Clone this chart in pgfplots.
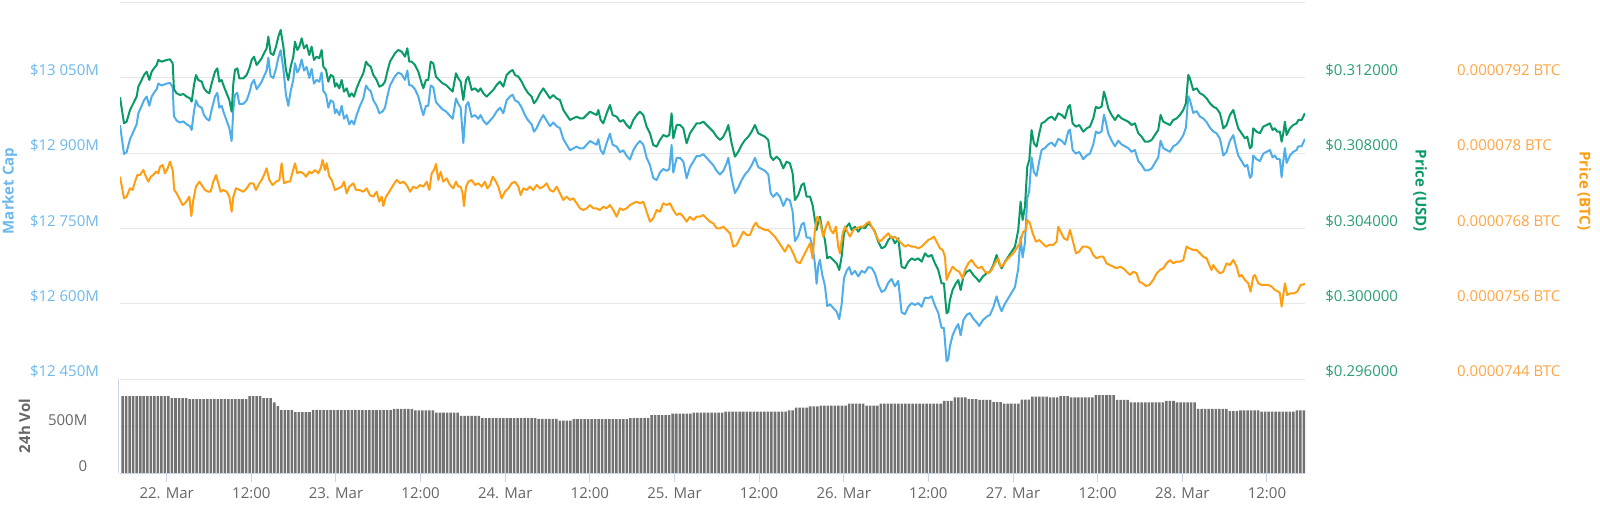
\documentclass[border=0pt]{standalone}
\usepackage{pgfplots}
\pgfplotsset{compat=1.18}
\usepackage{pgfplotstable}
\usepackage{fontspec}
\setmainfont{Open Sans}
\definecolor{mcblue}{HTML}{4FAEE9}
\definecolor{mctext}{HTML}{6DB8EC}
\definecolor{usdgreen}{HTML}{0A9A69}
\definecolor{usdtext}{HTML}{2A9E77}
\definecolor{btcorange}{HTML}{FF9E12}
\definecolor{btctext}{HTML}{FFA544}
\definecolor{gridgray}{HTML}{E6E6E6}
\definecolor{tickblue}{HTML}{CCD6EB}
\definecolor{labgray}{HTML}{666666}
\definecolor{volgray}{HTML}{727272}

% t = hours since 22 Mar 00:00 ; usd = price in USD ; mc = market cap in millions USD
\pgfplotstableread{
t usd mc
-6.62 0.310957 12955.7
-6.05 0.309577 12898.2
-5.68 0.309666 12901.9
-5.20 0.310285 12927.7
-4.73 0.310638 12942.5
-4.26 0.310992 12957.2
-4.02 0.311522 12979.3
-3.55 0.311876 12994.1
-3.22 0.312141 13005.1
-2.84 0.312318 13012.5
-2.46 0.311876 12994.1
-2.13 0.312318 13012.5
-1.80 0.312495 13019.9
-1.42 0.312672 13027.2
-1.19 0.312937 13038.3
-0.71 0.312849 13034.6
0.00 0.312937 13038.3
0.47 0.312972 13039.8
0.85 0.312760 13030.9
1.03 0.311381 12973.4
1.41 0.311169 12964.6
1.89 0.311080 12960.9
2.36 0.311133 12963.1
2.83 0.310992 12957.2
3.30 0.310903 12953.5
3.54 0.310727 12946.1
3.87 0.311611 12983.0
4.15 0.312141 13005.1
4.48 0.311876 12994.1
4.96 0.311788 12990.4
5.29 0.311434 12975.6
5.67 0.311257 12968.3
6.04 0.311169 12964.6
6.38 0.311699 12986.7
6.85 0.312318 13012.5
7.18 0.312495 13019.9
7.46 0.311788 12990.4
7.79 0.311876 12994.1
8.12 0.311522 12979.3
8.50 0.311169 12964.6
8.88 0.310815 12949.8
9.21 0.310196 12924.0
9.45 0.311699 12986.7
9.68 0.312407 13016.2
10.01 0.312495 13019.9
10.30 0.311964 12997.8
10.86 0.311964 12997.8
11.34 0.312141 13005.1
11.72 0.312495 13019.9
12.05 0.312937 13038.3
12.38 0.313114 13045.7
12.76 0.312672 13027.2
13.13 0.312849 13034.6
13.46 0.313025 13042.0
13.80 0.313291 13053.0
14.17 0.313556 13064.1
14.41 0.314175 13089.9
14.74 0.313291 13053.0
15.12 0.313202 13049.4
15.50 0.313644 13067.8
15.83 0.314175 13089.9
16.16 0.314529 13104.7
16.54 0.313644 13067.8
16.91 0.312407 13016.2
17.24 0.311876 12994.1
17.58 0.312583 13023.6
17.95 0.313114 13045.7
18.19 0.313910 13078.8
18.52 0.313468 13060.4
18.80 0.313644 13067.8
19.14 0.314086 13086.2
19.47 0.313556 13064.1
19.84 0.313733 13071.5
20.22 0.313202 13049.4
20.55 0.313644 13067.8
20.88 0.312937 13038.3
21.26 0.313114 13045.7
21.64 0.313025 13042.0
21.97 0.313468 13060.4
22.21 0.312583 13023.6
22.59 0.312407 13016.2
22.92 0.311788 12990.4
23.25 0.312141 13005.1
23.63 0.312053 13001.4
23.86 0.311522 12979.3
24.10 0.311699 12986.7
24.48 0.311434 12975.6
24.81 0.311876 12994.1
25.14 0.311257 12968.3
25.52 0.311434 12975.6
25.89 0.310992 12957.2
26.22 0.311169 12964.6
26.56 0.310992 12957.2
26.93 0.311434 12975.6
27.41 0.311876 12994.1
27.88 0.312230 13008.8
28.26 0.312849 13034.6
28.59 0.312672 13027.2
28.92 0.312583 13023.6
29.30 0.312141 13005.1
29.77 0.311876 12994.1
30.15 0.311522 12979.3
30.62 0.311611 12983.0
30.95 0.311788 12990.4
31.28 0.312318 13012.5
31.66 0.312849 13034.6
32.37 0.313291 13053.0
32.84 0.313468 13060.4
33.31 0.313379 13056.7
33.79 0.313114 13045.7
34.12 0.313556 13064.1
34.40 0.312849 13034.6
34.73 0.312849 13034.6
35.20 0.312672 13027.2
35.68 0.312318 13012.5
36.15 0.311699 12986.7
36.39 0.311434 12975.6
36.76 0.311876 12994.1
37.09 0.311876 12994.1
37.43 0.312849 13034.6
37.80 0.312760 13030.9
38.18 0.312053 13001.4
38.65 0.311876 12994.1
39.13 0.311699 12986.7
39.60 0.311611 12983.0
40.07 0.311434 12975.6
40.54 0.311257 12968.3
41.02 0.312230 13008.8
41.35 0.311964 12997.8
41.68 0.311788 12990.4
42.06 0.310815 12920.0
42.44 0.311876 12994.1
42.77 0.312053 13001.4
43.24 0.311346 12972.0
43.71 0.311434 12975.6
44.18 0.311257 12968.3
44.51 0.311434 12975.6
44.89 0.311169 12964.6
45.37 0.310992 12957.2
45.84 0.311169 12964.6
46.31 0.311346 12972.0
46.78 0.311611 12983.0
47.26 0.311788 12990.4
47.73 0.311522 12979.3
48.20 0.312141 13005.1
48.67 0.312318 13012.5
49.05 0.312407 13016.2
49.38 0.312141 13005.1
49.86 0.312053 13001.4
50.33 0.311788 12990.4
50.80 0.311434 12975.6
51.27 0.311169 12964.6
51.75 0.310992 12957.2
52.08 0.310638 12942.5
52.45 0.310815 12949.8
52.93 0.311169 12964.6
53.40 0.311434 12975.6
53.87 0.311169 12964.6
54.34 0.310903 12953.5
54.82 0.311080 12960.9
55.29 0.310903 12953.5
55.76 0.310815 12949.8
56.24 0.310285 12927.7
56.71 0.310019 12916.7
57.18 0.309754 12905.6
57.65 0.309842 12909.3
58.13 0.309931 12913.0
58.60 0.309842 12909.3
59.07 0.309842 12909.3
59.54 0.310019 12916.7
60.02 0.310196 12924.0
60.49 0.310108 12920.3
60.96 0.310019 12916.7
61.20 0.310285 12927.7
61.53 0.309754 12905.6
61.91 0.309577 12898.2
62.38 0.310108 12920.3
62.85 0.310550 12938.8
63.23 0.310019 12916.7
63.80 0.309931 12913.0
64.27 0.309666 12901.9
64.74 0.309754 12905.6
65.21 0.309489 12894.5
65.69 0.309312 12887.2
66.16 0.309754 12905.6
66.63 0.310019 12916.7
67.10 0.310196 12924.0
67.58 0.310019 12916.7
68.05 0.309400 12890.9
68.52 0.309047 12876.1
68.99 0.308428 12850.3
69.47 0.308339 12846.6
69.94 0.308693 12861.4
70.41 0.308958 12868.4
70.89 0.308870 12864.7
71.26 0.308958 12868.4
71.59 0.310108 12916.3
71.83 0.308781 12861.1
72.30 0.309489 12890.5
72.78 0.309489 12890.5
73.25 0.309312 12883.2
73.72 0.308516 12850.0
74.19 0.309047 12872.1
74.67 0.309312 12883.2
75.14 0.309577 12894.2
75.61 0.309577 12894.2
76.08 0.309666 12897.9
76.56 0.309489 12890.5
77.03 0.309312 12883.2
77.50 0.309135 12875.8
77.97 0.308870 12864.7
78.45 0.308693 12857.4
78.92 0.308870 12864.7
79.39 0.309224 12879.5
79.63 0.309489 12890.5
80.10 0.308516 12850.0
80.57 0.307809 12820.5
81.05 0.308074 12831.6
81.52 0.308428 12846.3
81.99 0.308693 12857.4
82.46 0.308870 12864.7
82.94 0.309135 12875.8
83.41 0.309489 12890.5
83.88 0.309047 12872.1
84.35 0.308958 12868.4
84.83 0.308870 12864.7
85.30 0.308693 12857.4
85.63 0.307809 12820.5
86.01 0.307632 12813.1
86.48 0.307809 12820.5
86.95 0.307632 12813.1
87.43 0.307190 12794.7
87.90 0.307544 12809.4
88.37 0.307455 12805.8
88.75 0.306925 12783.6
89.08 0.305510 12724.7
89.55 0.305775 12735.7
90.02 0.306306 12757.8
90.35 0.306394 12761.5
90.73 0.305687 12732.0
91.21 0.305687 12732.0
91.58 0.305245 12713.6
91.91 0.304449 12680.4
92.15 0.303919 12640.0
92.39 0.304361 12676.7
92.62 0.304626 12687.8
92.95 0.303919 12658.3
93.33 0.303388 12636.2
93.66 0.302415 12595.6
94.04 0.302504 12599.3
94.51 0.302327 12592.0
94.99 0.302150 12584.6
95.36 0.301797 12569.8
95.70 0.302504 12599.3
96.03 0.303742 12650.9
96.40 0.304095 12665.7
96.78 0.304272 12673.1
97.11 0.303919 12658.3
97.59 0.304095 12665.7
98.06 0.303830 12654.6
98.53 0.304095 12665.7
99.00 0.304007 12662.0
99.48 0.304272 12673.1
99.95 0.304095 12671.7
100.42 0.303830 12660.6
100.89 0.303300 12638.5
101.37 0.302946 12623.8
101.84 0.303034 12627.5
102.31 0.303388 12642.2
102.78 0.303565 12649.6
103.26 0.303211 12634.8
103.73 0.303476 12645.9
104.20 0.301973 12583.2
104.67 0.301885 12579.5
105.15 0.302239 12594.3
105.62 0.302415 12601.7
106.09 0.302327 12598.0
106.56 0.302415 12601.7
107.04 0.302239 12594.3
107.51 0.302681 12612.7
107.98 0.302504 12611.3
108.46 0.302592 12615.0
108.93 0.302150 12596.6
109.40 0.301797 12581.8
109.87 0.301089 12552.4
110.20 0.301089 12552.4
110.58 0.299498 12486.0
110.82 0.299586 12489.7
111.05 0.300205 12515.5
111.43 0.300736 12537.6
111.90 0.301089 12552.4
112.24 0.301266 12559.7
112.57 0.300736 12537.6
112.95 0.301443 12567.1
113.42 0.301708 12578.2
113.89 0.301797 12581.8
114.36 0.301531 12570.8
114.84 0.301354 12563.4
115.21 0.301178 12556.0
115.69 0.301443 12567.1
116.25 0.301620 12574.5
116.73 0.301708 12578.2
117.20 0.302062 12592.9
117.67 0.302592 12615.0
118.05 0.302150 12596.6
118.38 0.301885 12585.5
118.85 0.302239 12600.3
119.33 0.302504 12611.3
119.80 0.302769 12622.4
120.27 0.303034 12633.5
120.51 0.303476 12651.9
120.74 0.303919 12670.3
121.07 0.305422 12733.0
121.36 0.304449 12692.4
121.69 0.305156 12721.9
122.02 0.307278 12810.4
122.30 0.307632 12825.1
122.63 0.309224 12891.5
122.96 0.308516 12862.0
123.34 0.308339 12854.6
123.72 0.309047 12884.1
124.05 0.309577 12906.2
124.52 0.309666 12909.9
124.99 0.309842 12917.3
125.47 0.309931 12921.0
125.94 0.309754 12913.6
126.41 0.310108 12928.3
126.89 0.310019 12924.7
127.36 0.309842 12917.3
127.83 0.310461 12943.1
128.07 0.310550 12946.8
128.45 0.309577 12906.2
128.92 0.309400 12898.9
129.39 0.309489 12902.5
129.96 0.309135 12887.8
130.43 0.309312 12895.2
130.90 0.309400 12898.9
131.38 0.309842 12917.3
131.75 0.310461 12943.1
132.09 0.310373 12939.4
132.56 0.310461 12943.1
132.89 0.311257 12976.3
133.17 0.310903 12961.5
133.50 0.310373 12939.4
133.98 0.310019 12924.7
134.45 0.309754 12913.6
134.92 0.310019 12924.7
135.39 0.309842 12917.3
135.87 0.309754 12913.6
136.34 0.309666 12909.9
136.81 0.309489 12902.5
137.28 0.309577 12906.2
137.76 0.309047 12884.1
138.23 0.308870 12876.7
138.70 0.308605 12865.7
139.17 0.308605 12865.7
139.65 0.308693 12869.4
140.12 0.308958 12880.4
140.59 0.309224 12891.5
140.92 0.310019 12924.7
141.30 0.309666 12909.9
141.77 0.309577 12906.2
142.25 0.309489 12902.5
142.72 0.309754 12913.6
143.19 0.309842 12917.3
143.66 0.310019 12924.7
144.14 0.310285 12935.7
144.51 0.310638 12950.5
144.85 0.312141 13013.1
145.08 0.311964 13005.8
145.55 0.311346 12980.0
146.03 0.311434 12983.6
146.50 0.311169 12972.6
146.97 0.311080 12968.9
147.45 0.310903 12961.5
147.92 0.310638 12950.5
148.39 0.310461 12943.1
148.86 0.310373 12939.4
149.34 0.310108 12928.3
149.57 0.309754 12913.6
149.81 0.309312 12895.2
150.28 0.309489 12902.5
150.75 0.310019 12924.7
151.23 0.310285 12935.7
151.60 0.309754 12913.6
151.93 0.309312 12895.2
152.41 0.309047 12884.1
152.88 0.308781 12873.1
153.21 0.308870 12876.7
153.59 0.308251 12850.9
153.83 0.308339 12854.6
154.06 0.309312 12895.2
154.53 0.309135 12887.8
155.01 0.309047 12884.1
155.48 0.309400 12898.9
155.95 0.309489 12902.5
156.42 0.309577 12906.2
156.80 0.309224 12891.5
157.13 0.309312 12895.2
157.46 0.309135 12887.8
157.84 0.309135 12887.8
158.08 0.308605 12852.0
158.32 0.309047 12884.1
158.55 0.309666 12909.9
158.79 0.308958 12880.4
159.26 0.309312 12895.2
159.73 0.309489 12902.5
160.21 0.309577 12906.2
160.44 0.309754 12913.6
160.91 0.309754 12913.6
161.39 0.310108 12928.3
}\usdtab

% price in BTC
\pgfplotstableread{
t btc
-6.62 0.000077625
-6.05 0.000077280
-5.68 0.000077307
-5.20 0.000077439
-4.83 0.000077413
-4.49 0.000077545
-4.16 0.000077651
-3.79 0.000077651
-3.31 0.000077731
-2.94 0.000077625
-2.60 0.000077545
-2.27 0.000077625
-1.90 0.000077651
-1.52 0.000077705
-1.19 0.000077678
-0.95 0.000077784
-0.57 0.000077811
-0.24 0.000077678
0.14 0.000077758
0.47 0.000077864
0.85 0.000077731
1.08 0.000077413
1.41 0.000077360
1.89 0.000077254
2.26 0.000077174
2.59 0.000077201
2.92 0.000077254
3.21 0.000077307
3.49 0.000076999
3.78 0.000077254
4.15 0.000077466
4.63 0.000077545
4.96 0.000077492
5.43 0.000077413
5.90 0.000077386
6.23 0.000077386
6.61 0.000077545
6.99 0.000077651
7.32 0.000077519
7.65 0.000077386
8.03 0.000077413
8.50 0.000077386
8.88 0.000077307
9.21 0.000077068
9.45 0.000077307
9.82 0.000077439
10.39 0.000077413
10.86 0.000077386
11.34 0.000077439
11.81 0.000077519
12.28 0.000077519
12.66 0.000077413
13.13 0.000077519
13.46 0.000077572
13.80 0.000077651
14.17 0.000077758
14.55 0.000077572
15.02 0.000077492
15.50 0.000077545
15.97 0.000077572
16.30 0.000077837
16.63 0.000077519
17.10 0.000077545
17.48 0.000077545
17.86 0.000077705
18.19 0.000077837
18.52 0.000077678
18.90 0.000077705
19.37 0.000077678
19.75 0.000077625
20.22 0.000077705
20.55 0.000077678
21.03 0.000077731
21.50 0.000077678
21.83 0.000077758
22.11 0.000077890
22.44 0.000077731
22.68 0.000077837
23.06 0.000077625
23.39 0.000077572
23.86 0.000077413
24.33 0.000077439
24.81 0.000077466
25.14 0.000077545
25.52 0.000077360
25.89 0.000077466
26.46 0.000077519
26.84 0.000077413
27.31 0.000077413
27.88 0.000077386
28.35 0.000077439
28.82 0.000077333
29.30 0.000077307
29.77 0.000077386
30.15 0.000077227
30.48 0.000077307
30.71 0.000077158
31.09 0.000077307
31.56 0.000077386
32.13 0.000077492
32.61 0.000077572
33.08 0.000077519
33.55 0.000077545
34.02 0.000077492
34.50 0.000077386
34.97 0.000077466
35.44 0.000077439
35.91 0.000077492
36.39 0.000077466
36.86 0.000077545
37.24 0.000077413
37.57 0.000077678
37.90 0.000077731
38.18 0.000077826
38.51 0.000077572
38.84 0.000077705
39.22 0.000077545
39.69 0.000077598
40.17 0.000077492
40.64 0.000077439
41.02 0.000077545
41.35 0.000077466
41.68 0.000077466
41.96 0.000077360
42.15 0.000077158
42.44 0.000077466
42.77 0.000077545
43.24 0.000077572
43.71 0.000077492
44.18 0.000077519
44.66 0.000077466
45.13 0.000077545
45.46 0.000077439
45.84 0.000077492
46.22 0.000077625
46.69 0.000077545
47.02 0.000077466
47.49 0.000077280
47.96 0.000077386
48.44 0.000077439
48.91 0.000077519
49.38 0.000077545
49.86 0.000077466
50.19 0.000077333
50.56 0.000077439
51.04 0.000077413
51.51 0.000077466
51.98 0.000077413
52.45 0.000077492
52.93 0.000077439
53.40 0.000077466
53.87 0.000077519
54.34 0.000077413
54.82 0.000077386
55.29 0.000077466
55.76 0.000077360
56.24 0.000077254
56.71 0.000077307
57.18 0.000077254
57.65 0.000077280
58.13 0.000077201
58.60 0.000077121
59.07 0.000077095
59.54 0.000077121
60.02 0.000077174
60.49 0.000077121
60.96 0.000077121
61.43 0.000077095
61.91 0.000077148
62.38 0.000077121
62.85 0.000077174
63.32 0.000077095
63.80 0.000076988
64.27 0.000077121
64.74 0.000077095
65.21 0.000077121
65.69 0.000077174
66.16 0.000077201
66.63 0.000077227
67.10 0.000077201
67.58 0.000077227
68.05 0.000077068
68.52 0.000076909
68.99 0.000076962
69.47 0.000077095
69.94 0.000077068
70.41 0.000077201
70.89 0.000077174
71.36 0.000077201
71.83 0.000077095
72.30 0.000077015
72.78 0.000077041
73.25 0.000076988
73.72 0.000076909
74.19 0.000076988
74.67 0.000076935
75.14 0.000076988
75.61 0.000076988
76.08 0.000077015
76.56 0.000076962
77.03 0.000076909
77.50 0.000076882
77.97 0.000076803
78.45 0.000076803
78.92 0.000076829
79.39 0.000076776
79.87 0.000076723
80.34 0.000076511
80.81 0.000076538
81.28 0.000076644
81.76 0.000076750
82.23 0.000076697
82.70 0.000076697
83.17 0.000076829
83.55 0.000076893
83.88 0.000076829
84.35 0.000076803
84.83 0.000076776
85.30 0.000076776
85.77 0.000076723
86.24 0.000076670
86.72 0.000076591
87.19 0.000076511
87.66 0.000076432
88.13 0.000076538
88.37 0.000076511
88.84 0.000076405
89.32 0.000076272
89.79 0.000076246
90.26 0.000076352
90.73 0.000076458
91.21 0.000076564
91.58 0.000076325
91.91 0.000076776
92.25 0.000076988
92.62 0.000076909
93.10 0.000076670
93.47 0.000076829
93.80 0.000076909
94.14 0.000076776
94.51 0.000076723
94.89 0.000076829
95.22 0.000076511
95.46 0.000076405
95.84 0.000076723
96.17 0.000076829
96.50 0.000076750
96.88 0.000076670
97.35 0.000076776
97.82 0.000076803
98.29 0.000076829
98.77 0.000076829
99.24 0.000076882
99.62 0.000076909
99.95 0.000076829
100.28 0.000076776
100.66 0.000076670
101.04 0.000076591
101.37 0.000076617
101.84 0.000076670
102.31 0.000076723
102.78 0.000076644
103.26 0.000076670
103.73 0.000076617
104.20 0.000076564
104.67 0.000076511
105.15 0.000076538
105.62 0.000076511
106.09 0.000076511
106.56 0.000076485
107.04 0.000076511
107.51 0.000076564
107.98 0.000076617
108.46 0.000076644
108.79 0.000076670
109.16 0.000076591
109.64 0.000076485
110.02 0.000076458
110.35 0.000076352
110.58 0.000075981
110.96 0.000076087
111.43 0.000076193
111.90 0.000076140
112.38 0.000076113
112.85 0.000076007
113.18 0.000076140
113.65 0.000076246
114.13 0.000076299
114.60 0.000076219
115.07 0.000076166
115.54 0.000076193
116.02 0.000076113
116.49 0.000076087
116.96 0.000076140
117.43 0.000076246
117.91 0.000076325
118.24 0.000076193
118.62 0.000076219
119.09 0.000076299
119.56 0.000076352
120.03 0.000076405
120.51 0.000076485
120.98 0.000076564
121.45 0.000076750
121.83 0.000076776
122.02 0.000076935
122.40 0.000076882
122.78 0.000076723
123.25 0.000076591
123.72 0.000076617
124.19 0.000076564
124.67 0.000076511
125.14 0.000076538
125.71 0.000076538
126.18 0.000076591
126.41 0.000076829
126.75 0.000076750
127.22 0.000076644
127.69 0.000076617
128.07 0.000076776
128.45 0.000076617
128.92 0.000076405
129.39 0.000076432
129.87 0.000076511
130.43 0.000076511
130.90 0.000076485
131.38 0.000076379
131.85 0.000076325
132.32 0.000076352
132.79 0.000076352
133.27 0.000076246
133.74 0.000076219
134.21 0.000076193
134.68 0.000076166
135.16 0.000076193
135.63 0.000076166
136.10 0.000076113
136.58 0.000076060
137.05 0.000076113
137.52 0.000076087
137.90 0.000075954
138.37 0.000075928
138.84 0.000075885
139.32 0.000075901
139.88 0.000075981
140.36 0.000076087
140.83 0.000076140
141.30 0.000076166
141.77 0.000076246
142.25 0.000076299
142.72 0.000076246
143.19 0.000076272
143.66 0.000076272
144.14 0.000076299
144.61 0.000076511
144.99 0.000076485
145.55 0.000076458
146.03 0.000076458
146.50 0.000076405
146.97 0.000076352
147.45 0.000076325
147.92 0.000076193
148.15 0.000076140
148.39 0.000076219
148.86 0.000076140
149.34 0.000076087
149.81 0.000076113
150.28 0.000076246
150.75 0.000076219
151.23 0.000076299
151.70 0.000076193
152.08 0.000076034
152.41 0.000076060
152.88 0.000075981
153.35 0.000075928
153.68 0.000075795
154.06 0.000076034
154.30 0.000076060
154.77 0.000075928
155.24 0.000075901
155.72 0.000075901
156.19 0.000075901
156.66 0.000075875
157.13 0.000075822
157.61 0.000075795
157.84 0.000075769
158.08 0.000075556
158.32 0.000075742
158.55 0.000075928
158.88 0.000075742
159.35 0.000075769
159.83 0.000075769
160.30 0.000075795
160.77 0.000075901
161.39 0.000075917
}\btctab

\begin{document}
\begin{tikzpicture}
\useasboundingbox (0,0) rectangle (800pt,252.5pt);
\pgfplotsset{
  panel/.style={scale only axis, width=592.5pt, height=189pt,
    at={(60pt,62.85pt)}, anchor=south west,
    xmin=-6.62, xmax=161.4, xtick=\empty,
    axis line style={draw=none}, major tick length=0pt,
    scaled y ticks=false,
    tick label style={font=\fontsize{7.5}{9}\selectfont}},
}
% Market cap (left axis)
\begin{axis}[panel,
  ymin=12450, ymax=13202,
  ytick={12450,12600,12750,12900,13050,13200},
  yticklabels={\$12 450M,\$12 600M,\$12 750M,\$12 900M,\$13 050M,{}},
  ymajorgrids, grid style={gridgray, line width=0.5pt},
  yticklabel style={color=mctext, anchor=east, inner sep=0pt, xshift=-10.35pt, yshift=3.85pt}]
\addplot[mcblue, line width=1pt, line join=round, no marks] table[x=t, y=mc]{\usdtab};
\end{axis}
% Price USD (right axis)
\begin{axis}[panel,
  ymin=0.296, ymax=0.31605,
  ytick={0.296,0.300,0.304,0.308,0.312},
  yticklabels={\$0.296000,\$0.300000,\$0.304000,\$0.308000,\$0.312000},
  ytick pos=right, yticklabel pos=right,
  yticklabel style={color=usdtext, anchor=west, inner sep=0pt, xshift=10pt, yshift=3.85pt}]
\addplot[usdgreen, line width=1pt, line join=round, no marks] table[x=t, y=usd]{\usdtab};
\end{axis}
% Price BTC (far right axis)
\begin{axis}[panel,
  ymin=0.0000744, ymax=0.000080416,
  ytick={0.0000744,0.0000756,0.0000768,0.0000780,0.0000792},
  yticklabels={0.0000744 BTC,0.0000756 BTC,0.0000768 BTC,0.000078 BTC,0.0000792 BTC},
  ytick pos=right, yticklabel pos=right,
  yticklabel style={color=btctext, anchor=west, inner sep=0pt, xshift=75.85pt, yshift=3.85pt}]
\addplot[btcorange, line width=1pt, line join=round, no marks] table[x=t, y=btc]{\btctab};
\end{axis}
% 24h volume (millions USD)
\begin{axis}[scale only axis, width=592.5pt, height=47pt,
  at={(60pt,15.85pt)}, anchor=south west,
  xmin=-6.62, xmax=161.4, ymin=0, ymax=1008.6,
  ybar, bar width=0.36,
  scaled y ticks=false,
  ytick={0,500}, yticklabels={0,500M},
  ymajorgrids, grid style={gridgray, line width=0.5pt},
  xtick={0,12,24,36,48,60,72,84,96,108,120,132,144,156},
  xticklabels={22. Mar,12:00,23. Mar,12:00,24. Mar,12:00,25. Mar,12:00,26. Mar,12:00,27. Mar,12:00,28. Mar,12:00},
  axis line style={draw=none},
  tick label style={font=\fontsize{7.5}{9}\selectfont, color=labgray},
  xtick pos=bottom, ytick pos=left,
  tick align=outside, major tick length=4.5pt,
  xtick style={draw=tickblue, line width=0.5pt},
  ytick style={draw=none},
  xticklabel style={anchor=center, inner sep=0pt, yshift=-5.2pt},
  yticklabel style={anchor=east, inner sep=0pt, xshift=-11.65pt, yshift=3.35pt}]
\addplot[fill=volgray, draw=none] coordinates {
(-6.25,829) (-5.75,829) (-5.25,829) (-4.75,829) (-4.25,829) (-3.75,829) (-3.25,829) (-2.75,829) (-2.25,829) (-1.75,829) (-1.25,829) (-0.75,829) (-0.25,829) (0.25,829)
(0.75,808) (1.25,808) (1.75,808) (2.25,808) (2.75,808)
(3.25,797) (3.75,797) (4.25,797) (4.75,797) (5.25,797) (5.75,797) (6.25,797) (6.75,797) (7.25,797) (7.75,797) (8.25,797) (8.75,797) (9.25,797) (9.75,797) (10.25,797) (10.75,797) (11.25,797)
(11.75,829) (12.25,829) (12.75,829) (13.25,829)
(13.75,808) (14.25,808) (14.75,808)
(15.25,760) (15.75,720)
(16.25,679) (16.75,679) (17.25,679) (17.75,679)
(18.25,657) (18.75,657) (19.25,657) (19.75,657) (20.25,657)
(20.75,679) (21.25,679) (21.75,679) (22.25,679) (22.75,679) (23.25,679) (23.75,679) (24.25,679) (24.75,679) (25.25,679) (25.75,679) (26.25,679)
(26.75,679) (27.25,679) (27.75,679) (28.25,679) (28.75,679) (29.25,679) (29.75,679) (30.25,679) (30.75,679) (31.25,679) (31.75,679)
(32.25,690) (32.75,690) (33.25,690) (33.75,690) (34.25,690) (34.75,690)
(35.25,675) (35.75,675) (36.25,675) (36.75,675) (37.25,675) (37.75,675)
(38.25,650) (38.75,650) (39.25,650) (39.75,650) (40.25,650) (40.75,650) (41.25,650)
(41.75,615) (42.25,615) (42.75,615) (43.25,615) (43.75,615) (44.25,615)
(44.75,593) (45.25,593) (45.75,593) (46.25,593) (46.75,593) (47.25,593) (47.75,593) (48.25,593) (48.75,593) (49.25,593) (49.75,593) (50.25,593) (50.75,593) (51.25,593) (51.75,593) (52.25,593)
(52.75,585) (53.25,585) (53.75,585) (54.25,585) (54.75,585) (55.25,585)
(55.75,564) (56.25,564) (56.75,564) (57.25,564)
(57.75,582) (58.25,582) (58.75,582) (59.25,582) (59.75,582) (60.25,582) (60.75,582) (61.25,582) (61.75,582) (62.25,582) (62.75,582) (63.25,582) (63.75,582) (64.25,582) (64.75,582) (65.25,582)
(65.75,593) (66.25,593) (66.75,593) (67.25,593) (67.75,593) (68.25,593)
(68.75,625) (69.25,625) (69.75,625) (70.25,625) (70.75,625) (71.25,625)
(71.75,640) (72.25,640) (72.75,640) (73.25,640) (73.75,640) (74.25,640)
(74.75,650) (75.25,650) (75.75,650) (76.25,650) (76.75,650) (77.25,650) (77.75,650) (78.25,650) (78.75,650)
(79.25,661) (79.75,661) (80.25,661) (80.75,661) (81.25,661) (81.75,661) (82.25,661) (82.75,661) (83.25,661) (83.75,661) (84.25,661) (84.75,661) (85.25,661) (85.75,661) (86.25,661) (86.75,661) (87.25,661) (87.75,661)
(88.25,675) (88.75,675)
(89.25,704) (89.75,704) (90.25,704) (90.75,704)
(91.25,719) (91.75,719) (92.25,719)
(92.75,725) (93.25,725) (93.75,725) (94.25,725) (94.75,725) (95.25,725) (95.75,725) (96.25,725)
(96.75,747) (97.25,747) (97.75,747) (98.25,747) (98.75,747)
(99.25,725) (99.75,725) (100.25,725) (100.75,725)
(101.25,747) (101.75,747) (102.25,747) (102.75,747) (103.25,747) (103.75,747) (104.25,747) (104.75,747) (105.25,747) (105.75,747) (106.25,747) (106.75,747) (107.25,747) (107.75,747) (108.25,747) (108.75,747) (109.25,747) (109.75,747)
(110.25,776) (110.75,776) (111.25,776)
(111.75,815) (112.25,815) (112.75,815) (113.25,815)
(113.75,797) (114.25,797) (114.75,797)
(115.25,787) (115.75,787) (116.25,787) (116.75,787)
(117.25,765) (117.75,765) (118.25,765)
(118.75,747) (119.25,747) (119.75,747) (120.25,747) (120.75,747)
(121.25,790) (121.75,790) (122.25,790)
(122.75,822) (123.25,822) (123.75,822) (124.25,822) (124.75,822)
(125.25,815) (125.75,815) (126.25,815)
(126.75,829) (127.25,829) (127.75,829)
(128.25,815) (128.75,815) (129.25,815) (129.75,815) (130.25,815) (130.75,815) (131.25,815)
(131.75,840) (132.25,840) (132.75,840) (133.25,840) (133.75,840) (134.25,840)
(134.75,787) (135.25,787) (135.75,787) (136.25,787)
(136.75,762) (137.25,762) (137.75,762) (138.25,762) (138.75,762) (139.25,762) (139.75,762) (140.25,762) (140.75,762) (141.25,762)
(141.75,776) (142.25,776) (142.75,776)
(143.25,762) (143.75,762) (144.25,762) (144.75,762) (145.25,762) (145.75,762)
(146.25,690) (146.75,690) (147.25,690) (147.75,690) (148.25,690) (148.75,690) (149.25,690) (149.75,690) (150.25,690)
(150.75,668) (151.25,668) (151.75,668)
(152.25,675) (152.75,675) (153.25,675) (153.75,675) (154.25,675) (154.75,675)
(155.25,661) (155.75,661) (156.25,661) (156.75,661) (157.25,661) (157.75,661) (158.25,661) (158.75,661) (159.25,661) (159.75,661)
(160.25,675) (160.75,675) (161.25,675)
};
\end{axis}
% axis lines of the volume pane
\draw[tickblue, line width=0.5pt] (60pt,15.85pt) -- (652.5pt,15.85pt);
\draw[tickblue, line width=0.5pt] (59pt,15.85pt) -- (59pt,62.85pt);
% axis titles
\node[rotate=90, font=\fontsize{7.5}{9}\selectfont\bfseries, text=mctext] at (4.85pt,157pt) {Market Cap};
\node[rotate=90, font=\fontsize{7.5}{9}\selectfont\bfseries, text=labgray] at (12.25pt,39.5pt) {24h Vol};
\node[rotate=-90, font=\fontsize{7.5}{9}\selectfont\bfseries, text=usdgreen] at (710pt,157pt) {Price (USD)};
\node[rotate=-90, font=\fontsize{7.5}{9}\selectfont\bfseries, text=btcorange] at (792pt,157pt) {Price (BTC)};
\end{tikzpicture}
\end{document}
